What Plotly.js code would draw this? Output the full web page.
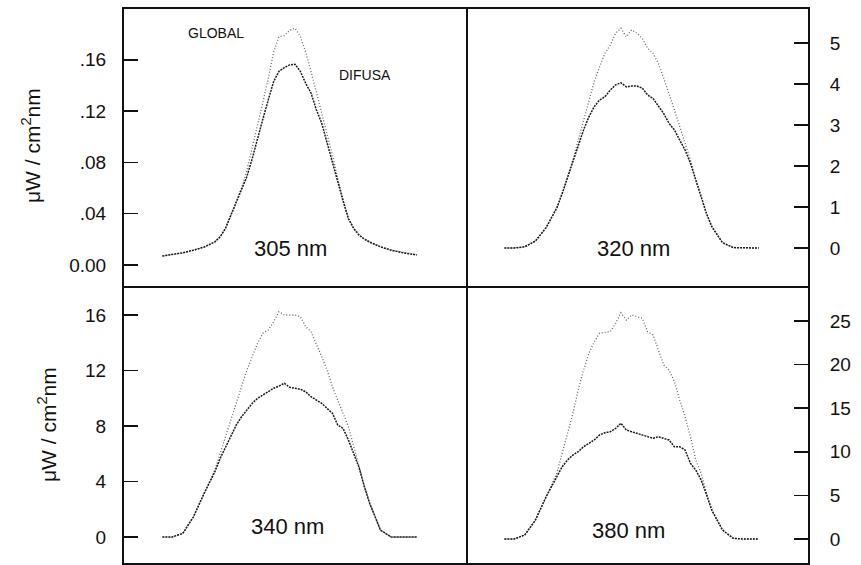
<!DOCTYPE html>
<html>
<head>
<meta charset="utf-8">
<script src="https://cdn.plot.ly/plotly-3.0.1.min.js"></script>
<style>
html,body{margin:0;padding:0;background:#fff;}
#chart{width:861px;height:565px;}
</style>
</head>
<body>
<div id="chart"></div>
<script>
// Hour of day (solar time) shared by all four panels
const hours = [5.8, 6.25, 6.75, 7.25, 7.75, 8.25, 8.5, 8.75, 9, 9.25, 9.5, 9.75, 10, 10.25, 10.5, 10.75, 11, 11.25, 11.5, 11.75, 12, 12.25, 12.5, 12.75, 13, 13.25, 13.5, 13.75, 14, 14.25, 14.5, 14.75, 15, 15.25, 15.5, 16, 16.5, 17, 17.7];

// 305 nm
const global305 = [0.007, 0.008, 0.0095, 0.0115, 0.014, 0.018, 0.022, 0.0286, 0.039, 0.049, 0.060, 0.074, 0.091, 0.109, 0.127, 0.1456, 0.166, 0.178, 0.1788, 0.183, 0.1846, 0.178, 0.166, 0.151, 0.135, 0.118, 0.101, 0.0858, 0.0676, 0.0507, 0.0364, 0.0286, 0.0234, 0.0203, 0.018, 0.0143, 0.0117, 0.0099, 0.008];
const difusa305 = [0.007, 0.008, 0.0095, 0.0115, 0.014, 0.018, 0.022, 0.0286, 0.039, 0.049, 0.059, 0.069, 0.083, 0.0975, 0.114, 0.1287, 0.143, 0.151, 0.1539, 0.156, 0.1565, 0.151, 0.1417, 0.134, 0.121, 0.1105, 0.096, 0.0805, 0.065, 0.0500, 0.0360, 0.0284, 0.0232, 0.0201, 0.0178, 0.0141, 0.0115, 0.0097, 0.0078];

// 320 nm
const global320 = [0, 0, 0.03, 0.17, 0.5, 0.98, 1.33, 1.74, 2.15, 2.63, 3.12, 3.61, 4.06, 4.42, 4.75, 4.95, 5.24, 5.36, 5.15, 5.32, 5.24, 5.11, 4.87, 4.75, 4.5, 4.14, 3.77, 3.37, 2.96, 2.55, 2.15, 1.66, 1.25, 0.85, 0.52, 0.13, 0.01, 0, 0];
const difusa320 = [0, 0, 0.03, 0.17, 0.5, 0.98, 1.33, 1.72, 2.07, 2.47, 2.88, 3.2, 3.45, 3.61, 3.69, 3.85, 3.98, 4.03, 3.93, 3.95, 3.95, 3.9, 3.73, 3.65, 3.45, 3.28, 3.04, 2.88, 2.63, 2.39, 2.07, 1.64, 1.24, 0.84, 0.52, 0.13, 0.01, 0, 0];

// 340 nm
const global340 = [0, 0, 0.26, 1.46, 3.15, 4.83, 6.03, 7.23, 8.43, 9.64, 10.83, 12.04, 13.0, 13.96, 14.68, 14.92, 15.52, 16.24, 16.0, 16.0, 16.0, 15.88, 15.16, 14.8, 13.96, 13.0, 12.04, 10.83, 9.87, 8.92, 7.95, 6.51, 5.07, 3.63, 2.43, 0.5, 0, 0, 0];
const difusa340 = [0, 0, 0.26, 1.46, 3.15, 4.7, 5.67, 6.51, 7.35, 8.07, 8.67, 9.15, 9.64, 10.0, 10.23, 10.47, 10.72, 10.88, 11.08, 10.79, 10.72, 10.65, 10.47, 10.11, 9.87, 9.64, 9.27, 8.92, 8.07, 7.83, 6.99, 6.03, 5.0, 3.6, 2.4, 0.5, 0, 0, 0];

// 380 nm
const global380 = [0, 0, 0.46, 2.18, 4.85, 7.53, 9.83, 12.12, 14.4, 17.09, 19.38, 21.3, 22.6, 23.6, 23.66, 23.77, 24.73, 25.95, 25.1, 25.7, 25.5, 25.3, 23.77, 23.4, 21.67, 19.95, 19.38, 18.04, 15.94, 14.02, 11.73, 9.06, 7.53, 5.24, 3.33, 1.03, 0.08, 0, 0];
const difusa380 = [0, 0, 0.46, 2.18, 4.85, 7.15, 8.29, 9.06, 9.63, 10.01, 10.58, 10.97, 11.35, 11.93, 12.19, 12.3, 12.69, 13.27, 12.5, 12.3, 12.12, 11.93, 11.73, 11.55, 11.73, 11.55, 11.35, 10.58, 10.58, 10.2, 8.68, 7.91, 6.77, 5.1, 3.3, 1.03, 0.08, 0, 0];

// Tick labels
const ticks305 = [0, 0.04, 0.08, 0.12, 0.16];
const tickText305 = ['0.00', '.04', '.08', '.12', '.16'];
const ticks320 = [0, 1, 2, 3, 4, 5];
const ticks340 = [0, 4, 8, 12, 16];
const ticks380 = [0, 5, 10, 15, 20, 25];

const panelLabels = ['305 nm', '320 nm', '340 nm', '380 nm'];
const yTitle = 'μW / cm<sup>2</sup>nm';

const FONT = 'Liberation Sans, Arial, Helvetica, sans-serif';
const globalLine = {color: '#666', width: 1.3, dash: '1px,2px'};
const difusaLine = {color: '#1a1a1a', width: 1.5, dash: '2px,1px'};

const series = [
  [global305, difusa305, 'x', 'y'],
  [global320, difusa320, 'x2', 'y2'],
  [global340, difusa340, 'x3', 'y3'],
  [global380, difusa380, 'x4', 'y4']
];
const data = [];
series.forEach(s => {
  data.push({x: hours, y: s[0], xaxis: s[2], yaxis: s[3], mode: 'lines', line: globalLine, name: 'GLOBAL', showlegend: false, hoverinfo: 'skip'});
  data.push({x: hours, y: s[1], xaxis: s[2], yaxis: s[3], mode: 'lines', line: difusaLine, name: 'DIFUSA', showlegend: false, hoverinfo: 'skip'});
});

const frame = {showline: true, linewidth: 2, linecolor: '#111', showgrid: false, zeroline: false};
function xax(dom, anchor, mirror) {
  return Object.assign({}, frame, {domain: dom, anchor: anchor, mirror: mirror, range: [4, 20], showticklabels: false, ticks: ''});
}
function yax(dom, anchor, side, mirror, range, vals, text) {
  const a = Object.assign({}, frame, {
    domain: dom, anchor: anchor, side: side, mirror: mirror, range: range,
    tickmode: 'array', tickvals: vals,
    ticks: 'inside', ticklen: 14, tickwidth: 1.5, tickcolor: '#111',
    tickfont: {family: FONT, size: 19, color: '#111'},
    ticklabelstandoff: side === 'right' ? 16 : 12
  });
  if (text) a.ticktext = text;
  return a;
}

function px(x) { return (x - 124) / 684; }
function py(y) { return (563 - y) / 554; }

const annFont = {family: FONT, size: 22, color: '#111'};
const smallFont = {family: FONT, size: 14, color: '#111'};
const titleFont = {family: FONT, size: 21, color: '#111'};
const annotations = [
  {text: panelLabels[0], x: px(290), y: py(248), font: annFont},
  {text: panelLabels[1], x: px(633), y: py(248), font: annFont},
  {text: panelLabels[2], x: px(287), y: py(526), font: annFont},
  {text: panelLabels[3], x: px(628.5), y: py(530), font: annFont},
  {text: 'GLOBAL', x: px(216), y: py(33), font: smallFont},
  {text: 'DIFUSA', x: px(364.5), y: py(75), font: smallFont},
  {text: yTitle, x: px(31), y: py(146), textangle: -90, font: titleFont},
  {text: yTitle, x: px(47), y: py(425), textangle: -90, font: titleFont}
].map(a => Object.assign({xref: 'paper', yref: 'paper', showarrow: false, xanchor: 'center', yanchor: 'middle'}, a));

const layout = {
  width: 861, height: 565,
  margin: {l: 124, r: 53, t: 9, b: 2},
  paper_bgcolor: '#fff', plot_bgcolor: '#fff',
  showlegend: false,
  font: {family: FONT, color: '#111'},
  xaxis: xax([0, 0.5], 'y', true),
  xaxis2: xax([0.5, 1], 'y2', true),
  xaxis3: xax([0, 0.5], 'y3', false),
  xaxis4: xax([0.5, 1], 'y4', false),
  yaxis: yax([0.5, 1], 'x', 'left', true, [-0.0164, 0.1996], ticks305, tickText305),
  yaxis2: yax([0.5, 1], 'x2', 'right', false, [-0.927, 5.83], ticks320),
  yaxis3: yax([0, 0.5], 'x3', 'left', true, [-1.87, 18.09], ticks340),
  yaxis4: yax([0, 0.5], 'x4', 'right', false, [-2.75, 29.01], ticks380),
  annotations: annotations
};

Plotly.newPlot('chart', data, layout, {staticPlot: true, displayModeBar: false});
</script>
</body>
</html>
